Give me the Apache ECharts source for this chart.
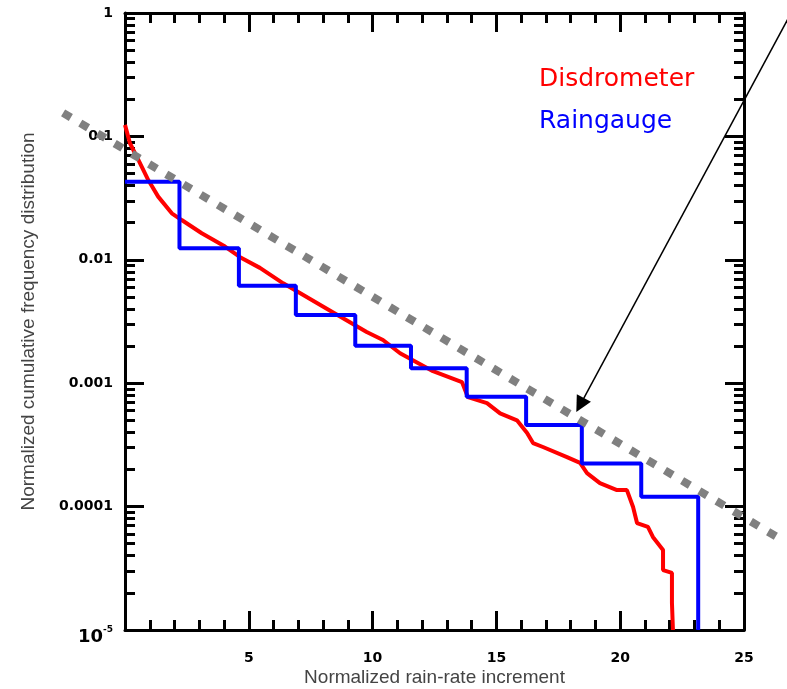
<!DOCTYPE html>
<html>
<head>
<meta charset="utf-8">
<script src="https://cdn.jsdelivr.net/npm/echarts@6.0.0/dist/echarts.min.js"></script>
<style>
  html, body { margin: 0; padding: 0; background: #fff; }
  #chart { width: 787px; height: 689px; }
</style>
</head>
<body>
<div id="chart"></div>
<script>
// disdrometer curve: [rain-rate increment, cumulative frequency]
var disdrometer = [
  [0, 0.124], [0.2, 0.088], [0.54, 0.0644], [0.94, 0.0443], [1.34, 0.0325],
  [1.89, 0.0238], [2.29, 0.021], [3.1, 0.0164], [4.04, 0.0128], [4.65, 0.0105],
  [5.45, 0.0086], [6.39, 0.00645], [8.01, 0.00417], [9.76, 0.0026],
  [10.42, 0.00224], [11.11, 0.00175], [12.44, 0.00125], [13.61, 0.00102],
  [13.85, 0.00077], [14.62, 0.00069], [15.15, 0.00057], [15.83, 0.0005],
  [16.24, 0.000395], [16.48, 0.000327], [16.88, 0.000304], [17.85, 0.000252],
  [18.38, 0.000226], [18.66, 0.000187], [19.18, 0.000155], [19.87, 0.000136],
  [20.27, 0.000136], [20.52, 0.0000993], [20.68, 0.0000736], [21.12, 0.0000684],
  [21.32, 0.0000568], [21.73, 0.0000445], [21.73, 0.0000306], [22.09, 0.000029],
  [22.09, 0.0000166], [22.13, 0.00001]
];
// raingauge histogram steps: [bin start, level]
var raingauge = [
  [0, 0.043], [2.2, 0.0124], [4.6, 0.00617], [6.9, 0.00357], [9.3, 0.00201],
  [11.55, 0.00132], [13.8, 0.000778], [16.2, 0.000458], [18.45, 0.000224],
  [20.85, 0.00012], [23.15, 0.00001]
];
// fitted power-law line (dotted)
var fitLine = [[-2.5, 0.155], [26.6, 0.0000527]];
// annotation arrow
var arrowLine = [[27.18, 1.27], [18.38, 0.000665]];

var yTickLabels = { '-5': '{b|10}{s|-5}', '-4': '0.0001', '-3': '0.001', '-2': '0.01', '-1': '0.1', '0': '1' };
// minor log ticks 2..9 of each decade, as log10 positions
var yMinorTicks = [];
for (var d = -5; d < 0; d++) {
  for (var k = 2; k <= 9; k++) yMinorTicks.push(d + Math.log10(k));
}

var chart = echarts.init(document.getElementById('chart'));

var gridRect = { left: 125, right: 43, top: 13, bottom: 59, containLabel: false, outerBoundsMode: 'none' };
var tickFont = { fontFamily: 'DejaVu Sans', fontWeight: 'bold', fontSize: 14, color: '#000' };
var titleFont = { fontFamily: 'Liberation Sans', fontSize: 19, color: '#444' };
var axisLine = { show: true, onZero: false, lineStyle: { color: '#000', width: 3 } };

function xAxisCfg(pos, withLabels) {
  return {
    type: 'value', gridIndex: 0, position: pos, min: 0, max: 25, interval: 5,
    axisLine: axisLine,
    axisTick: { show: true, inside: true, length: 19, lineStyle: { color: '#000', width: 3 } },
    minorTick: { show: true, splitNumber: 5, length: 10, lineStyle: { color: '#000', width: 3 } },
    splitLine: { show: false },
    axisLabel: withLabels ? Object.assign({
      margin: 21,
      formatter: function (v) { return v === 0 ? '' : String(v); }
    }, tickFont) : { show: false },
    name: withLabels ? 'Normalized rain-rate increment' : '',
    nameLocation: 'middle', nameGap: 38, nameMoveOverlap: false,
    nameTextStyle: titleFont
  };
}

function yLogCfg(pos, withLabels) {
  return {
    type: 'log', logBase: 10, gridIndex: 0, position: pos, min: 0.00001, max: 1, splitNumber: 5,
    axisLine: axisLine,
    axisTick: { show: true, inside: true, length: 19, lineStyle: { color: '#000', width: 3 } },
    splitLine: { show: false },
    axisLabel: withLabels ? Object.assign({
      margin: 12,
      formatter: function (v) { return yTickLabels[String(Math.round(Math.log10(v)))]; },
      rich: {
        b: { fontFamily: 'DejaVu Sans', fontWeight: 'bold', fontSize: 18, lineHeight: 18, verticalAlign: 'bottom' },
        s: { fontFamily: 'DejaVu Sans', fontWeight: 'bold', fontSize: 9, lineHeight: 32, verticalAlign: 'middle' }
      }
    }, tickFont) : { show: false },
    name: withLabels ? 'Normalized cumulative frequency distribution' : '',
    nameLocation: 'middle', nameGap: 87, nameMoveOverlap: false,
    nameTextStyle: titleFont
  };
}

// second grid on the same rect only carries the minor log ticks
function yMinorCfg(pos) {
  return {
    type: 'value', gridIndex: 1, position: pos, min: -5, max: 0,
    axisLine: { show: false },
    axisTick: { show: true, inside: true, length: 10, customValues: yMinorTicks,
                lineStyle: { color: '#000', width: 3 } },
    axisLabel: { show: false },
    splitLine: { show: false }
  };
}

var option = {
  animation: false,
  backgroundColor: '#fff',
  grid: [gridRect, Object.assign({}, gridRect)],
  legend: {
    orient: 'vertical', left: 529, top: 59,
    icon: 'none', itemWidth: 0, itemHeight: 30, itemGap: 15,
    textStyle: { fontFamily: 'DejaVu Sans', fontSize: 25 },
    data: [
      { name: 'Disdrometer', textStyle: { color: '#ff0000' } },
      { name: 'Raingauge', textStyle: { color: '#0000ff' } }
    ],
    selectedMode: false
  },
  xAxis: [
    xAxisCfg('bottom', true),
    xAxisCfg('top', false),
    { type: 'value', gridIndex: 1, min: 0, max: 25, show: false }
  ],
  yAxis: [yLogCfg('left', true), yLogCfg('right', false), yMinorCfg('left'), yMinorCfg('right')],
  series: [
    {
      name: 'Disdrometer', type: 'line', data: disdrometer,
      showSymbol: false, symbol: 'none',
      lineStyle: { color: '#ff0000', width: 4 }, itemStyle: { color: '#ff0000' },
      z: 3
    },
    {
      name: 'Raingauge', type: 'line', data: raingauge, step: 'end',
      showSymbol: false, symbol: 'none',
      lineStyle: { color: '#0000ff', width: 4 }, itemStyle: { color: '#0000ff' },
      z: 4
    },
    {
      name: 'fit', type: 'lines', coordinateSystem: 'cartesian2d', clip: false,
      data: [{ coords: fitLine }],
      symbol: ['none', 'none'],
      lineStyle: { color: '#808080', width: 8, type: [9, 11], cap: 'butt', opacity: 1 },
      z: 5
    },
    {
      name: 'arrow', type: 'lines', coordinateSystem: 'cartesian2d', clip: false,
      data: [{ coords: arrowLine }],
      symbol: ['none', 'triangle'], symbolSize: [12, 16],
      lineStyle: { color: '#000', width: 1.5, opacity: 1 },
      z: 6
    }
  ]
};

chart.setOption(option);
window.addEventListener('resize', function () {
  chart.resize();
});
</script>
</body>
</html>
